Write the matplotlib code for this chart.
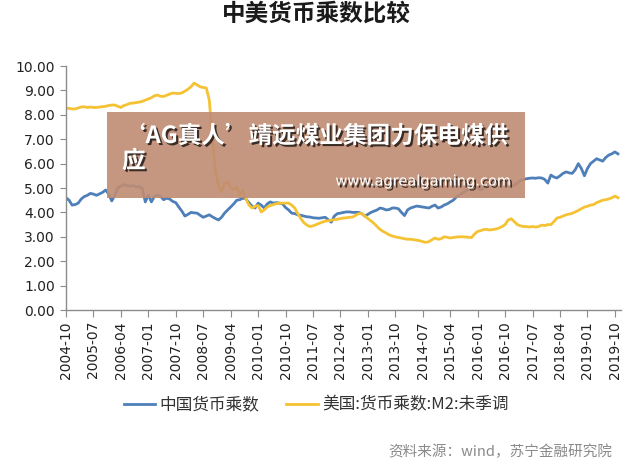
import matplotlib
matplotlib.use("Agg")
import matplotlib.pyplot as plt
import matplotlib.patheffects as pe
from matplotlib.patches import Rectangle
import numpy as np

# ---------------- data ----------------
title = "中美货币乘数比较"
series_names = ["中国货币乘数", "美国:货币乘数:M2:未季调"]

# monthly, 2004-10 .. 2019-11
china = [
    4.60, 4.50, 4.30, 4.32, 4.38, 4.55, 4.65, 4.70, 4.78, 4.75, 4.70, 4.76,
    4.82, 4.92, 4.75, 4.47, 4.70, 5.00, 5.08, 5.14, 5.10, 5.08, 5.10, 5.05,
    5.05, 4.98, 4.43, 4.72, 4.43, 4.66, 4.70, 4.66, 4.52, 4.58, 4.55, 4.45,
    4.40, 4.22, 4.05, 3.85, 3.92, 4.00, 3.98, 3.97, 3.88, 3.80, 3.85, 3.90,
    3.82, 3.75, 3.69, 3.80, 3.97, 4.10, 4.22, 4.35, 4.50, 4.52, 4.59, 4.55,
    4.40, 4.25, 4.18, 4.38, 4.30, 4.18, 4.35, 4.43, 4.38, 4.40, 4.38, 4.35,
    4.20, 4.10, 3.97, 3.95, 3.90, 3.88, 3.85, 3.82, 3.81, 3.78, 3.77, 3.76,
    3.78, 3.80, 3.70, 3.60, 3.85, 3.95, 3.97, 4.00, 4.02, 4.02, 4.00, 4.00,
    4.00, 3.95, 3.85, 3.92, 4.00, 4.05, 4.10, 4.18, 4.15, 4.10, 4.12, 4.18,
    4.18, 4.15, 4.00, 3.87, 4.10, 4.18, 4.22, 4.26, 4.24, 4.22, 4.20, 4.18,
    4.25, 4.30, 4.18, 4.22, 4.30, 4.35, 4.43, 4.50, 4.63, 4.72, 4.80, 4.88,
    4.95, 5.00, 5.04, 5.00, 4.92, 5.00, 5.10, 5.15, 5.20, 5.25, 5.25, 5.20,
    5.15, 5.10, 5.05, 5.12, 5.20, 5.30, 5.35, 5.38, 5.40, 5.41, 5.40, 5.42,
    5.41, 5.35, 5.20, 5.53, 5.45, 5.41, 5.50, 5.60, 5.66, 5.62, 5.60, 5.75,
    6.00, 5.80, 5.50, 5.80, 6.00, 6.10, 6.20, 6.15, 6.10, 6.25, 6.35, 6.40,
    6.48, 6.40,
]
usa = [
    8.28, 8.26, 8.24, 8.24, 8.28, 8.32, 8.33, 8.30, 8.32, 8.30, 8.30, 8.32,
    8.33, 8.35, 8.38, 8.40, 8.40, 8.35, 8.30, 8.38, 8.42, 8.47, 8.48, 8.50,
    8.52, 8.55, 8.60, 8.65, 8.70, 8.78, 8.81, 8.76, 8.75, 8.80, 8.85, 8.89,
    8.88, 8.87, 8.90, 8.97, 9.05, 9.15, 9.30, 9.22, 9.15, 9.12, 9.10, 8.60,
    7.00, 5.70, 5.10, 4.85, 5.20, 5.25, 5.00, 4.95, 5.04, 4.70, 4.88, 4.55,
    4.30, 4.18, 4.25, 4.28, 4.02, 4.10, 4.22, 4.28, 4.32, 4.36, 4.38, 4.38,
    4.38, 4.38, 4.30, 4.18, 3.95, 3.75, 3.58, 3.48, 3.42, 3.45, 3.50, 3.55,
    3.60, 3.64, 3.66, 3.68, 3.70, 3.72, 3.75, 3.77, 3.78, 3.80, 3.81, 3.88,
    3.95, 3.96, 3.85, 3.75, 3.65, 3.55, 3.42, 3.30, 3.22, 3.15, 3.08, 3.03,
    3.00, 2.97, 2.95, 2.92, 2.90, 2.90, 2.88, 2.86, 2.84, 2.80, 2.77, 2.80,
    2.88, 2.95, 2.90, 2.92, 3.00, 2.98, 2.95, 2.97, 2.99, 3.00, 3.00, 2.99,
    2.98, 2.97, 3.12, 3.22, 3.25, 3.30, 3.30, 3.28, 3.30, 3.32, 3.36, 3.42,
    3.50, 3.69, 3.74, 3.62, 3.50, 3.45, 3.42, 3.42, 3.40, 3.42, 3.40, 3.42,
    3.48, 3.46, 3.50, 3.50, 3.62, 3.77, 3.80, 3.85, 3.90, 3.93, 3.96, 4.02,
    4.08, 4.15, 4.22, 4.25, 4.30, 4.32, 4.40, 4.45, 4.50, 4.52, 4.55, 4.60,
    4.67, 4.60,
]
xtick_labels = ["2004-10", "2005-07", "2006-04", "2007-01", "2007-10", "2008-07",
                "2009-04", "2010-01", "2010-10", "2011-07", "2012-04", "2013-01",
                "2013-10", "2014-07", "2015-04", "2016-01", "2016-10", "2017-07",
                "2018-04", "2019-01", "2019-10"]
ytick_values = [0, 1, 2, 3, 4, 5, 6, 7, 8, 9, 10]
source_text = "资料来源：wind，苏宁金融研究院"
overlay_line1 = "‘AG真人’靖远煤业集团力保电煤供"
overlay_line2 = "应"
overlay_url = "www.agrealgaming.com"

# ---------------- style ----------------
CJK = ["Noto Sans CJK SC", "DejaVu Sans"]
LAT = ["DejaVu Sans", "Noto Sans CJK SC"]
plt.rcParams["font.family"] = LAT
blue = "#4E7FB9"
yellow = "#F4C232"
axis_gray = "#8C8C8C"

W, H = 632, 467
fig = plt.figure(figsize=(W / 100, H / 100), dpi=100)
ax = fig.add_axes([66 / W, 1 - 310 / H, (621 - 66) / W, (310 - 66) / H])

x = np.arange(len(china))
ax.plot(x, china, color=blue, lw=2.0, label=series_names[0], solid_joinstyle="round")
ax.plot(x, usa, color=yellow, lw=2.0, label=series_names[1], solid_joinstyle="round")

ax.set_xlim(0, 182)
ax.set_ylim(0, 10)
ax.set_yticks(ytick_values)
ax.set_yticklabels([f"{v:.2f}" for v in ytick_values], fontsize=10, color="#222222")
ax.set_xticks(np.arange(len(xtick_labels)) * 9)
ax.set_xticklabels(xtick_labels, rotation=90, fontsize=10, color="#222222")

for s in ["top", "right"]:
    ax.spines[s].set_visible(False)
for s in ["left", "bottom"]:
    ax.spines[s].set_color(axis_gray)
    ax.spines[s].set_linewidth(1.0)
ax.tick_params(axis="x", direction="out", length=5, color=axis_gray, pad=3)
ax.tick_params(axis="y", direction="out", length=4, color=axis_gray, pad=4)

# title
fig.text(0.5, 1 - 14 / H, title, ha="center", va="center", fontsize=17,
         fontweight="bold", family=CJK, color="#1a1a1a")

# legend
leg = fig.legend(loc="center", bbox_to_anchor=(0.5, 1 - 405 / H), ncol=2,
                 frameon=False, prop={"family": CJK, "size": 12},
                 handlelength=1.9, handletextpad=0.25, columnspacing=1.6)
for t in leg.get_texts():
    t.set_color("#333333")

# source
fig.text(612 / W, 1 - 452 / H, source_text, ha="right", va="center", fontsize=10.5,
         family=CJK, color="#8A8A8A", style="italic")

# overlay banner
rect = Rectangle((107 / W, 1 - 198 / H), (525 - 107) / W, (198 - 112) / H,
                 transform=fig.transFigure, facecolor="#C08C72", alpha=0.9,
                 edgecolor="none", zorder=5)
fig.add_artist(rect)
shadow = [pe.withSimplePatchShadow(offset=(1.5, -1.5), shadow_rgbFace="black", alpha=0.7)]
fig.text(122 / W, 1 - 136 / H, overlay_line1, ha="left", va="center", fontsize=17,
         fontweight="bold", family=CJK, color="white", zorder=6, path_effects=shadow)
fig.text(122 / W, 1 - 161 / H, overlay_line2, ha="left", va="center", fontsize=17,
         fontweight="bold", family=CJK, color="white", zorder=6, path_effects=shadow)
fig.text(512 / W, 1 - 181 / H, overlay_url, ha="right", va="center", fontsize=10.5,
         family=LAT, color="white", zorder=6, path_effects=shadow)

fig.savefig("out.png", dpi=100)
